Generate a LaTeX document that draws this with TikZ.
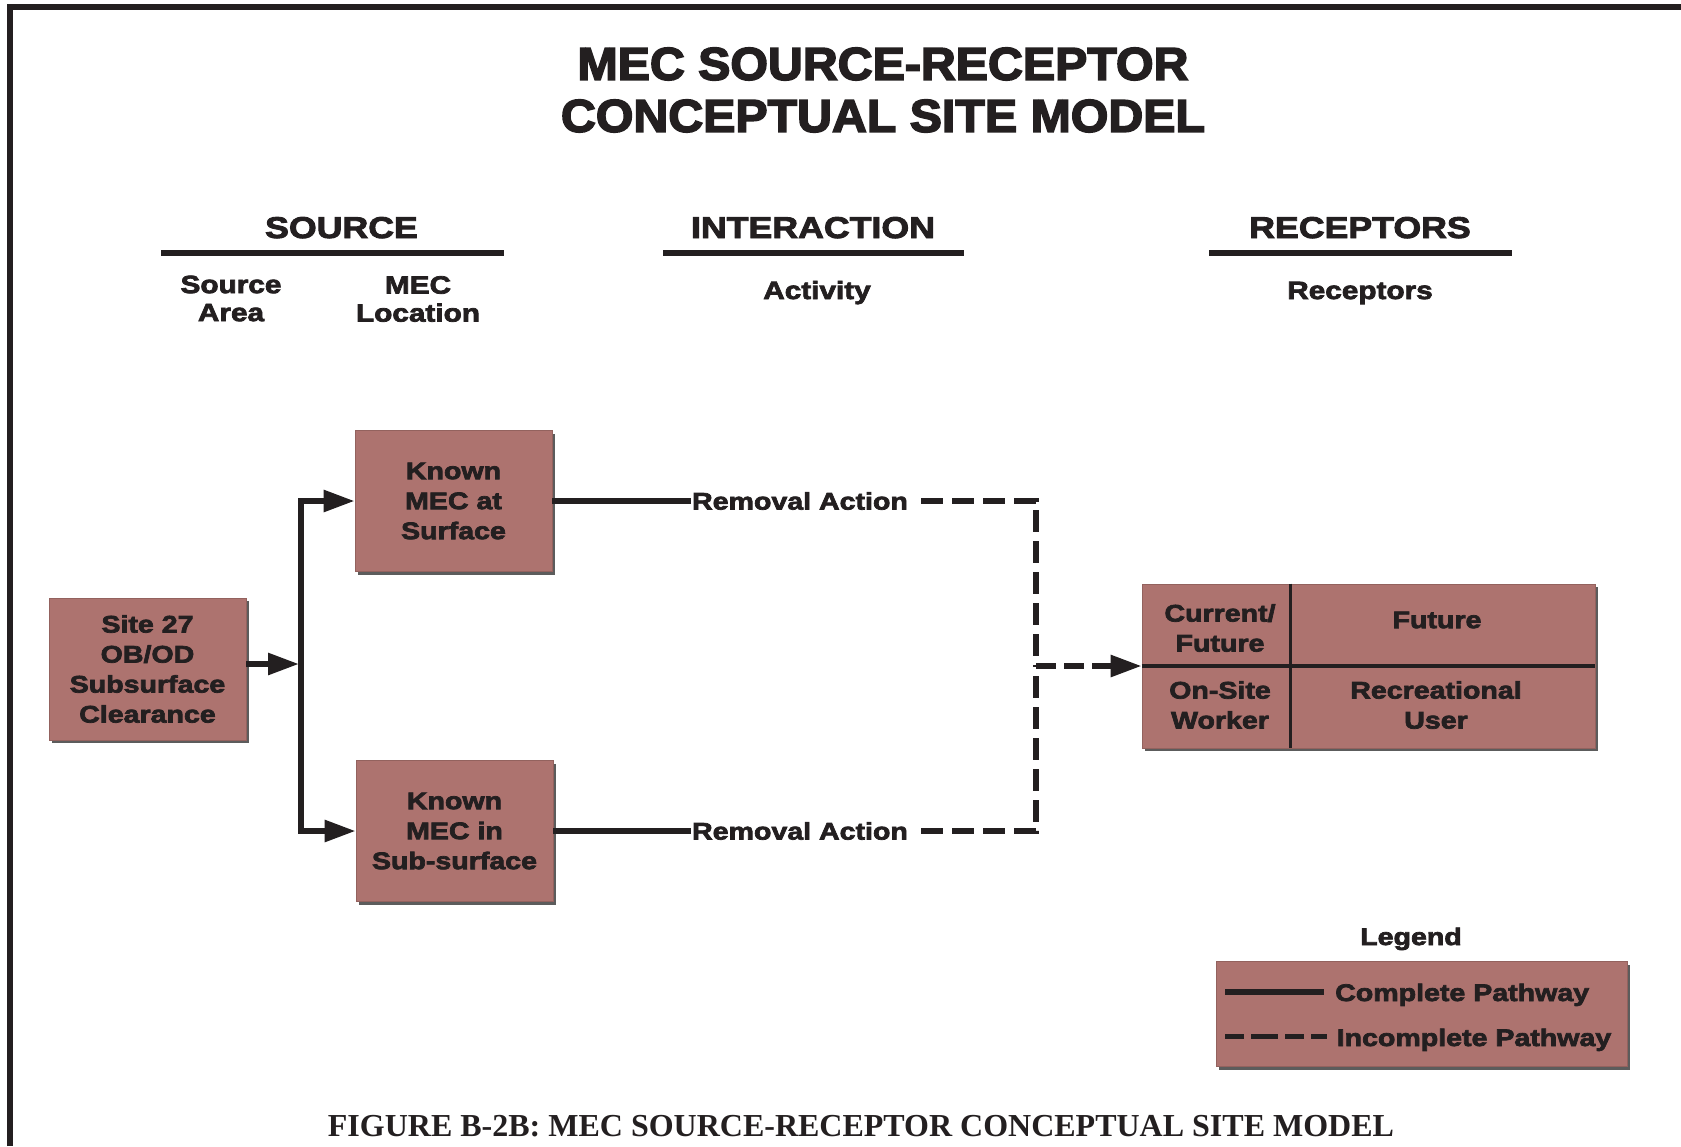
\documentclass[tikz,border=0pt]{standalone}
\usepackage{fontspec}
\usetikzlibrary{arrows.meta,shadows}
\newfontfamily\bsf{Liberation Sans}[FakeStretch=1.19,FakeBold=3]
\newfontfamily\tsf{Liberation Sans}[FakeStretch=1.05,FakeBold=3.5]
\newfontfamily\capf{Liberation Serif}
\definecolor{boxc}{RGB}{173,115,111}
\definecolor{ink}{RGB}{35,31,32}
\begin{document}
\begin{tikzpicture}[x=1pt,y=-1pt,
  every node/.style={text=ink},
  bfont/.style={font=\bsf\bfseries\fontsize{24}{30}\selectfont},
  mecbox/.style={bfont, fill=boxc, draw=boxc!85!black, line width=0.8pt, align=center, inner sep=0pt,
    drop shadow={shadow xshift=3pt,shadow yshift=-3pt,fill=black!75,opacity=0.85}},
  ln/.style={draw=ink, line width=5.8pt},
  dsh/.style={ln, dash pattern=on 22pt off 9pt},
  arrowed/.style={-{Triangle[length=31pt,width=21pt]}},
  hdr/.style={font=\bsf\bfseries\fontsize{30}{36}\selectfont, anchor=base},
  subhdr/.style={font=\bsf\bfseries\fontsize{25}{28}\selectfont, align=center},
  rule/.style={draw=ink, line width=6pt},
]
\useasboundingbox (0,0) rectangle (1681,1146);
\fill[white] (0,0) rectangle (1681,1146);
% frame
\draw[draw=ink, line width=6pt] (10.3,1146) -- (10.3,7) -- (1681,7);

% title
\node[font=\tsf\bfseries\fontsize{46}{52}\selectfont, align=center] (title) at (883,90)
  {MEC SOURCE-RECEPTOR\\CONCEPTUAL SITE MODEL};

% headers
\node[hdr] (hsrc) at (341.5,238) {SOURCE};
\node[hdr] (hint) at (813,238) {INTERACTION};
\node[hdr] (hrec) at (1360,238) {RECEPTORS};
\draw[rule] (161,252.5) -- (504,252.5);
\draw[rule] (663,252.5) -- (964,252.5);
\draw[rule] (1209,252.5) -- (1512,252.5);

\node[subhdr] (sarea) at (231,298.5) {Source\\Area};
\node[subhdr] (mloc) at (418,299) {MEC\\Location};
\node[subhdr, anchor=base] (act) at (817,299) {Activity};
\node[subhdr, anchor=base] (recp) at (1360,299) {Receptors};

% source boxes
\node[mecbox, minimum width=197pt, minimum height=142pt] (site) at (147.5,669) {Site 27\\OB/OD\\Subsurface\\Clearance};
\node[mecbox, minimum width=197pt, minimum height=141pt] (surf) at (453.5,501) {Known\\MEC at\\Surface};
\node[mecbox, minimum width=197pt, minimum height=141pt] (subs) at (454.5,831) {Known\\MEC in\\Sub-surface};

% receptor box
\node[mecbox, minimum width=453pt, minimum height=164pt] (rec) at (1368.5,666) {};
\coordinate (vd) at (1290.5,666);
\draw[ink, line width=3.5pt] (rec.west) -- (rec.east);
\draw[ink, line width=3pt] (vd |- rec.north) -- (vd |- rec.south);
\node[bfont, align=center] (cf) at (1220,628) {Current/\\Future};
\node[bfont] (fut) at (1437,620) {Future};
\node[bfont, align=center] (osw) at (1220,705) {On-Site\\Worker};
\node[bfont, align=center] (ru) at (1436,705) {Recreational\\User};

% removal action labels
\node[bfont, inner sep=1pt] (ra1) at (800,501) {Removal Action};
\node[bfont, inner sep=1pt] (ra2) at (800,831) {Removal Action};

% connectors
\coordinate (j) at (301,664);
\coordinate (jt) at (299,664);
\draw[ln, arrowed] (site.east |- j) -- (jt);
\draw[ln, arrowed, line join=miter] (j) |- (surf.west);
\draw[ln, arrowed, line join=miter] (j) |- (subs.west);
\draw[ln] (surf.east) -- (ra1.west);
\draw[ln] (subs.east) -- (ra2.west);
\coordinate (c1) at (1036,501);
\coordinate (c2) at (1036,831);
\coordinate (c3) at (1036,666);
\draw[dsh, line join=miter] ([xshift=12pt]ra1.east) -- (c1) -- (c3);
\draw[dsh, line join=miter] ([xshift=12pt]ra2.east) -- (c2) -- (c3);
\draw[ln, arrowed, dash pattern=on 20pt off 8pt] (c3) -- (rec.west);

% legend
\node[bfont, anchor=base] (legt) at (1411,945) {Legend};
\node[mecbox, minimum width=411pt, minimum height=105pt] (leg) at (1421.5,1014) {};
\coordinate (l1a) at (1225,992);
\coordinate (l1b) at (1324,992);
\coordinate (l2a) at (1225,1036.5);
\coordinate (l2b) at (1327,1036.5);
\draw[ln] (l1a) -- (l1b);
\draw[ln, dash pattern=on 19pt off 7pt on 27pt off 7pt] (l2a) -- (l2b);
\node[bfont, anchor=base west, inner sep=0pt] (lt1) at (1335,1001) {Complete Pathway};
\node[bfont, anchor=base west, inner sep=0pt] (lt2) at (1336.5,1046) {Incomplete Pathway};

% caption
\node[font=\capf\bfseries\fontsize{32}{36}\selectfont, anchor=base] (caption) at (861,1136.5)
  {FIGURE B-2B: MEC SOURCE-RECEPTOR CONCEPTUAL SITE MODEL};
\end{tikzpicture}
\end{document}
